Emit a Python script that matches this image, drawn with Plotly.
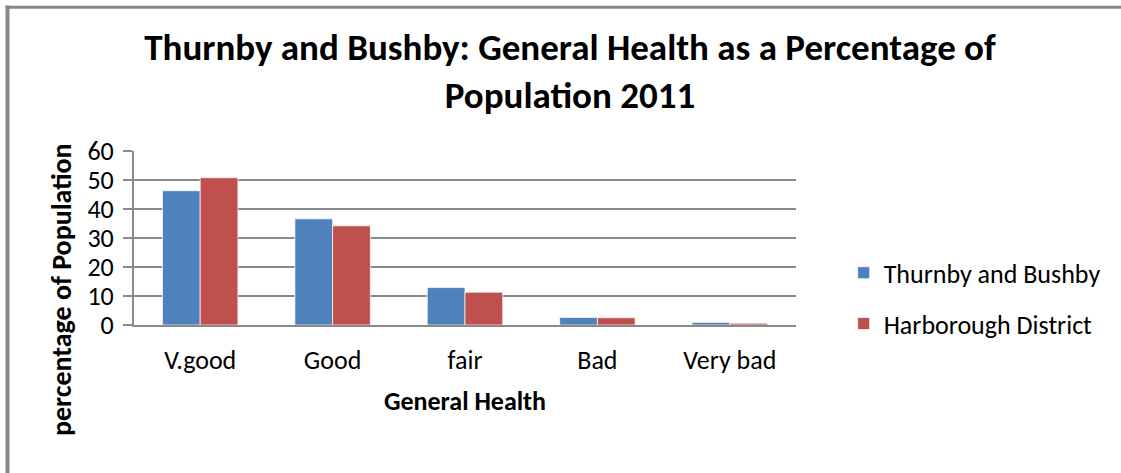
import plotly.graph_objects as go

categories = ["V.good", "Good", "fair", "Bad", "Very bad"]
thurnby = [46.3, 36.6, 12.9, 2.6, 0.9]
harborough = [50.8, 34.2, 11.3, 2.5, 0.6]
series_names = ["Thurnby and Bushby", "Harborough District"]
colors = ["#4F81BD", "#C0504D"]
title_text = "Thurnby and Bushby: General Health as a Percentage of<br>Population 2011"
y_title = "percentage of Population"
x_title = "General Health"
y_ticks = [0, 10, 20, 30, 40, 50, 60]

FONT = "Carlito, Calibri, 'Open Sans', sans-serif"
GRID = "#8a8a8a"
FS = 26

fig = go.Figure()
for name, vals, col in zip(series_names, [thurnby, harborough], colors):
    fig.add_trace(go.Bar(
        x=categories, y=vals, name=name, legendgroup=name,
        marker=dict(color=col, line=dict(color="rgba(255,255,255,0.7)", width=1)),
    ))

W, H = 1121, 473
L, R, T, B = 134, 325, 151, 148

fig.update_layout(
    width=W, height=H,
    margin=dict(l=L, r=R, t=T, b=B),
    paper_bgcolor="white", plot_bgcolor="white",
    barmode="group", bargap=0.43, bargroupgap=0,
    font=dict(family=FONT, color="black", size=FS),
    title=dict(text="<b>" + title_text + "</b>", x=570 / W, xanchor="center",
               y=1 - 60 / H, yanchor="middle",
               font=dict(size=37, family=FONT, color="black")),
    showlegend=True,
    legend=dict(x=1.072, xanchor="left", y=0.435, yanchor="top",
                traceorder="grouped", tracegroupgap=14,
                font=dict(size=FS, family=FONT, color="black"),
                bgcolor="rgba(0,0,0,0)"),
    xaxis=dict(showline=True, linecolor=GRID, linewidth=2, ticks="",
               tickfont=dict(size=FS), showgrid=False, ticklabelstandoff=11,
               title=dict(text="<b>" + x_title + "</b>", standoff=17,
                          font=dict(size=FS))),
    yaxis=dict(range=[0, 60], tickvals=y_ticks, showline=True, linecolor=GRID,
               linewidth=2, ticks="outside", ticklen=9, tickcolor=GRID,
               tickwidth=2, showgrid=True, gridcolor=GRID, gridwidth=2,
               zeroline=False, tickfont=dict(size=FS), ticklabelstandoff=4),
    annotations=[dict(text="<b>" + y_title + "</b>", textangle=-90,
                      xref="paper", yref="paper",
                      x=(61 - L) / (W - L - R), y=(H - B - 290) / (H - T - B),
                      xanchor="center", yanchor="middle", showarrow=False,
                      font=dict(size=28, family=FONT, color="black"))],
    shapes=[
        dict(type="line", xref="paper", yref="paper",
             x0=(7.5 - L) / (W - L - R), x1=(7.5 - L) / (W - L - R),
             y0=(H - B - 5.5) / (H - T - B), y1=(H - B - H - 5) / (H - T - B),
             line=dict(color="#888888", width=4)),
        dict(type="line", xref="paper", yref="paper",
             x0=(5.5 - L) / (W - L - R), x1=(W + 5 - L) / (W - L - R),
             y0=(H - B - 7.2) / (H - T - B), y1=(H - B - 7.2) / (H - T - B),
             line=dict(color="#888888", width=3)),
    ],
)

fig.write_html("out.html")
